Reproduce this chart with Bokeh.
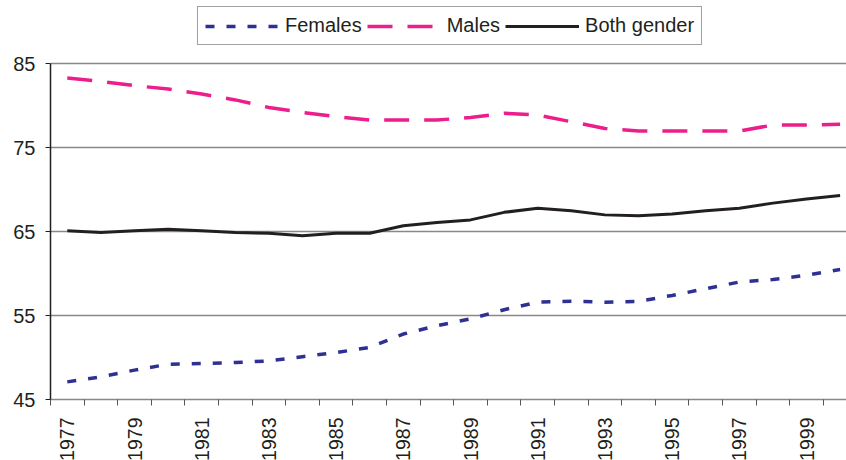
import math
from bokeh.plotting import figure
from bokeh.models import FixedTicker, Legend, LegendItem, Range1d
from bokeh.embed import file_html
from bokeh.resources import INLINE

years = list(range(1977, 2001))
females = [47.1, 47.7, 48.5, 49.2, 49.3, 49.4, 49.6, 50.1, 50.6, 51.2, 52.8, 53.8,
           54.6, 55.7, 56.6, 56.7, 56.6, 56.7, 57.4, 58.2, 59.0, 59.3, 59.8, 60.5]
males = [83.3, 82.9, 82.4, 82.0, 81.4, 80.7, 79.8, 79.2, 78.7, 78.3, 78.3, 78.3,
         78.6, 79.1, 78.9, 78.1, 77.3, 77.0, 77.0, 77.0, 77.0, 77.7, 77.7, 77.8]
both = [65.1, 64.9, 65.1, 65.3, 65.1, 64.9, 64.8, 64.5, 64.8, 64.8, 65.7, 66.1,
        66.4, 67.3, 67.8, 67.5, 67.0, 66.9, 67.1, 67.5, 67.8, 68.4, 68.9, 69.3]
y_ticks = [45, 55, 65, 75, 85]
x_label_years = list(range(1977, 2000, 2))

FONT = "Liberation Sans"
TXT = "#231F20"

# the frame reaches above 85 so that the legend sits inside it; the axis stops at 85
p = figure(frame_width=796, frame_height=393, output_backend="svg", toolbar_location=None,
           x_range=Range1d(1976.5, 2000.19), y_range=Range1d(45, 91.83),
           min_border_left=50, min_border_right=0, min_border_top=6,
           min_border_bottom=10)
p.outline_line_color = None
p.background_fill_color = "white"
p.border_fill_color = "white"

rf = p.line(years, females, line_color="#2E3192", line_width=3.5, line_dash="9 12")
rm = p.line(years, males, line_color="#EC1E8C", line_width=3.5, line_dash="25 15")
rb = p.line(years, both, line_color=TXT, line_width=3)

# y axis
p.yaxis.ticker = FixedTicker(ticks=y_ticks)
p.yaxis.bounds = (45, 85)
p.yaxis.axis_line_color = TXT
p.yaxis.axis_line_width = 1.5
p.yaxis.major_tick_out = 5
p.yaxis.major_tick_in = 0
p.yaxis.major_tick_line_color = TXT
p.yaxis.minor_tick_line_color = None
p.yaxis.major_label_standoff = 10
p.yaxis.major_label_text_font = FONT
p.yaxis.major_label_text_font_size = "20px"
p.yaxis.major_label_text_color = TXT

# x axis
p.xaxis.ticker = FixedTicker(ticks=x_label_years, minor_ticks=[y - 0.5 for y in years])
p.xaxis.axis_line_color = "#888888"
p.xaxis.axis_line_width = 1.5
p.xaxis.major_tick_line_color = None
p.xaxis.major_tick_out = 0
p.xaxis.major_tick_in = 0
p.xaxis.minor_tick_line_color = "#555555"
p.xaxis.minor_tick_out = 6
p.xaxis.minor_tick_in = 0
p.xaxis.major_label_orientation = math.pi / 2
p.xaxis.major_label_standoff = 12
p.xaxis.major_label_text_font = FONT
p.xaxis.major_label_text_font_size = "19.5px"
p.xaxis.major_label_text_color = TXT

# grid
p.xgrid.grid_line_color = None
p.ygrid.ticker = FixedTicker(ticks=y_ticks)
p.ygrid.grid_line_color = "#888888"
p.ygrid.grid_line_width = 1.5

legend = Legend(items=[LegendItem(label="Females", renderers=[rf]),
                       LegendItem(label="Males", renderers=[rm]),
                       LegendItem(label="Both gender", renderers=[rb])],
                orientation="horizontal", location=(147, 354))
legend.margin = 0
legend.padding = 7
legend.spacing = 5
legend.glyph_width = 74
legend.glyph_height = 20
legend.label_standoff = 6
legend.label_text_font = FONT
legend.label_text_font_size = "20px"
legend.label_text_color = TXT
legend.border_line_color = "#444444"
legend.border_line_width = 1.5
legend.background_fill_color = "white"
legend.background_fill_alpha = 1
p.add_layout(legend, "center")

open("out.html", "w").write(file_html(p, INLINE))
